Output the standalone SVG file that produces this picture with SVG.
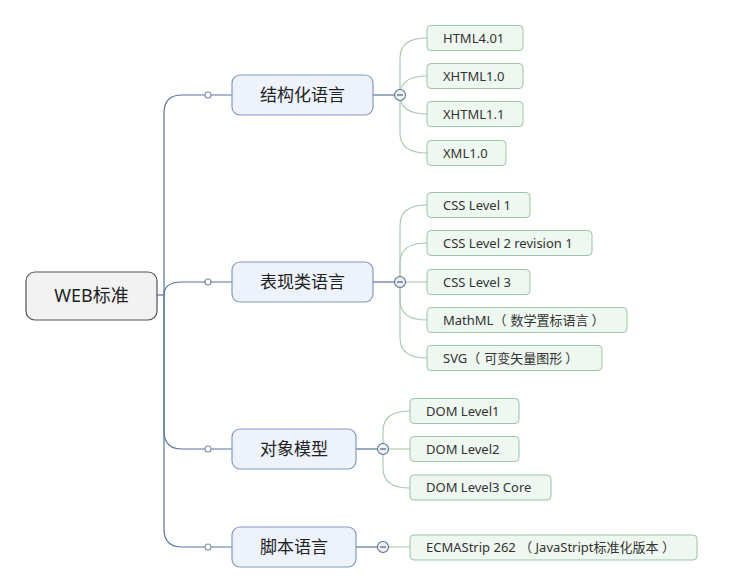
<svg xmlns="http://www.w3.org/2000/svg" width="738" height="582" viewBox="0 0 738 582">
<style>
.bg{fill:#ffffff}
.root{fill:#f2f2f2;stroke:#555555;stroke-width:1.2}
.main{fill:#edf2fb;stroke:#8598bd;stroke-width:1.2}
.sub{fill:#eef7f0;stroke:#9cc4a6;stroke-width:1}
.trunk{fill:none;stroke:#56759c;stroke-width:1.2}
.twig{fill:none;stroke:#a8c6ad;stroke-width:1.1}
.dot{fill:#ffffff;stroke:#7d90aa;stroke-width:1.1}
.tog{fill:#eef2f8;stroke:#56708f;stroke-width:1.1}
.minus{stroke:#3c4f66;stroke-width:1.1}
.t-root{font-family:"Noto Sans","Noto Sans CJK SC",sans-serif;font-size:18px;fill:#222;text-anchor:middle}
.t-main{font-family:"Noto Sans CJK SC",sans-serif;font-size:17px;fill:#222;text-anchor:middle}
.t-sub{font-family:"Noto Sans","Noto Sans CJK SC",sans-serif;font-size:13px;fill:#333}
</style>
<rect class="bg" x="0" y="0" width="738" height="582"/>
<g id="connectors">
  <path class="trunk" d="M157,295 H164"/>
  <path class="trunk" d="M164,295 V113 Q164,95 182,95 H232"/>
  <path class="trunk" d="M164,295 Q164,282 182,282 H232"/>
  <path class="trunk" d="M164,295 V431 Q164,449 182,449 H232"/>
  <path class="trunk" d="M164,295 V529 Q164,547 182,547 H232"/>
  <path class="trunk" d="M373,95 H395"/>
  <path class="trunk" d="M373,282 H395"/>
  <path class="trunk" d="M356,449 H378"/>
  <path class="trunk" d="M356,547 H378"/>
  <path class="twig" d="M400,95 V58 Q400,38 427,38"/>
  <path class="twig" d="M400,95 Q400,76 427,76"/>
  <path class="twig" d="M400,95 Q400,114 427,114"/>
  <path class="twig" d="M400,95 V133 Q400,153 427,153"/>
  <path class="twig" d="M400,282 V225 Q400,205 427,205"/>
  <path class="twig" d="M400,282 V263 Q400,243 427,243"/>
  <path class="twig" d="M400,282 H427"/>
  <path class="twig" d="M400,282 V300 Q400,320 427,320"/>
  <path class="twig" d="M400,282 V338 Q400,358 427,358"/>
  <path class="twig" d="M383,449 V431 Q383,411 410,411"/>
  <path class="twig" d="M383,449 H410"/>
  <path class="twig" d="M383,449 V468 Q383,488 410,488"/>
  <path class="twig" d="M388,547 H410"/>
  <circle class="dot" cx="208" cy="95" r="3"/>
  <circle class="dot" cx="208" cy="282" r="3"/>
  <circle class="dot" cx="208" cy="449" r="3"/>
  <circle class="dot" cx="208" cy="547" r="3"/>
  <g id="toggles">
    <circle class="tog" cx="400" cy="95" r="5.5"/><path class="minus" d="M397,95 H403"/>
    <circle class="tog" cx="400" cy="282" r="5.5"/><path class="minus" d="M397,282 H403"/>
    <circle class="tog" cx="383" cy="449" r="5.5"/><path class="minus" d="M380,449 H386"/>
    <circle class="tog" cx="383" cy="547" r="5.5"/><path class="minus" d="M380,547 H386"/>
  </g>
</g>
<g id="root"><rect class="root" x="26" y="272" width="131" height="48" rx="9"/><text class="t-root" x="91.5" y="302">WEB标准</text></g>
<g id="n1"><rect class="main" x="232" y="75" width="141" height="40" rx="8"/><text class="t-main" x="302.5" y="101">结构化语言</text></g>
<g id="n2"><rect class="main" x="232" y="262" width="141" height="40" rx="8"/><text class="t-main" x="302.5" y="288">表现类语言</text></g>
<g id="n3"><rect class="main" x="232" y="429" width="124" height="40" rx="8"/><text class="t-main" x="294" y="455">对象模型</text></g>
<g id="n4"><rect class="main" x="232" y="527" width="124" height="40" rx="8"/><text class="t-main" x="294" y="553">脚本语言</text></g>
<g id="c11"><rect class="sub" x="427" y="25.5" width="96" height="25" rx="4"/><text class="t-sub" x="443" y="42.5">HTML4.01</text></g>
<g id="c12"><rect class="sub" x="427" y="63.5" width="96" height="25" rx="4"/><text class="t-sub" x="443" y="80.5">XHTML1.0</text></g>
<g id="c13"><rect class="sub" x="427" y="101.5" width="96" height="25" rx="4"/><text class="t-sub" x="443" y="118.5">XHTML1.1</text></g>
<g id="c14"><rect class="sub" x="427" y="140.5" width="79" height="25" rx="4"/><text class="t-sub" x="443" y="157.5">XML1.0</text></g>
<g id="c21"><rect class="sub" x="427" y="192.5" width="103" height="25" rx="4"/><text class="t-sub" x="443" y="209.5">CSS Level 1</text></g>
<g id="c22"><rect class="sub" x="427" y="230.5" width="165" height="25" rx="4"/><text class="t-sub" x="443" y="247.5">CSS Level 2 revision 1</text></g>
<g id="c23"><rect class="sub" x="427" y="269.5" width="103" height="25" rx="4"/><text class="t-sub" x="443" y="286.5">CSS Level 3</text></g>
<g id="c24"><rect class="sub" x="427" y="307.5" width="200" height="25" rx="4"/><text class="t-sub" x="443" y="324.5">MathML（<tspan dx="4">数学置标语言</tspan><tspan dx="3">）</tspan></text></g>
<g id="c25"><rect class="sub" x="427" y="345.5" width="175" height="25" rx="4"/><text class="t-sub" x="443" y="362.5">SVG（<tspan dx="4">可变矢量图形</tspan><tspan dx="3">）</tspan></text></g>
<g id="c31"><rect class="sub" x="410" y="398.5" width="109" height="25" rx="4"/><text class="t-sub" x="426" y="415.5">DOM Level1</text></g>
<g id="c32"><rect class="sub" x="410" y="436.5" width="109" height="25" rx="4"/><text class="t-sub" x="426" y="453.5">DOM Level2</text></g>
<g id="c33"><rect class="sub" x="410" y="475" width="141" height="25" rx="4"/><text class="t-sub" x="426" y="492">DOM Level3 Core</text></g>
<g id="c41"><rect class="sub" x="410" y="535" width="287" height="25" rx="4"/><text class="t-sub" x="426" y="552">ECMAStrip 262 （ JavaStript标准化版本 ）</text></g>
</svg>
